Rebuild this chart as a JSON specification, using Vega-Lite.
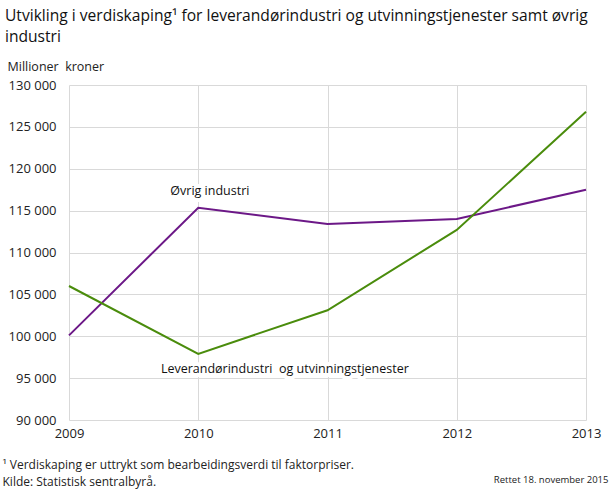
{
  "$schema": "https://vega.github.io/schema/vega-lite/v6.json",
  "width": 517,
  "height": 335,
  "autosize": {"type": "none"},
  "padding": {"left": 69, "top": 85, "right": 24, "bottom": 69},
  "background": "white",
  "config": {
    "view": {"stroke": null},
    "font": "Open Sans",
    "axis": {"labelFont": "Open Sans", "titleFont": "Open Sans", "labelColor": "#222", "titleColor": "#222", "gridColor": "#d9d9d9", "gridWidth": 1}
  },
  "title": {
    "text": ["Utvikling i verdiskaping¹ for leverandørindustri og utvinningstjenester samt øvrig", "industri"],
    "anchor": "start",
    "frame": "group",
    "orient": "top",
    "dx": -64,
    "offset": 14,
    "fontSize": 15.6,
    "fontWeight": "normal",
    "lineHeight": 21,
    "color": "#111",
    "font": "Open Sans"
  },
  "datasets": {
    "series": [
      {"year": 2009, "value": 100100, "series": "Øvrig industri"},
      {"year": 2010, "value": 115350, "series": "Øvrig industri"},
      {"year": 2011, "value": 113400, "series": "Øvrig industri"},
      {"year": 2012, "value": 114000, "series": "Øvrig industri"},
      {"year": 2013, "value": 117500, "series": "Øvrig industri"},
      {"year": 2009, "value": 106000, "series": "Leverandørindustri og utvinningstjenester"},
      {"year": 2010, "value": 97900, "series": "Leverandørindustri og utvinningstjenester"},
      {"year": 2011, "value": 103100, "series": "Leverandørindustri og utvinningstjenester"},
      {"year": 2012, "value": 112700, "series": "Leverandørindustri og utvinningstjenester"},
      {"year": 2013, "value": 126800, "series": "Leverandørindustri og utvinningstjenester"}
    ],
    "labels": [
      {"year": 2010.09, "value": 117350, "label": "Øvrig\u00a0industri"},
      {"year": 2010.67, "value": 96100, "label": "Leverandørindustri\u00a0\u00a0og utvinningstjenester"}
    ]
  },
  "layer": [
    {
      "data": {"name": "series"},
      "mark": {"type": "line", "strokeWidth": 2},
      "encoding": {
        "x": {
          "field": "year", "type": "quantitative",
          "scale": {"domain": [2009, 2013], "nice": false, "zero": false},
          "axis": {
            "values": [2009, 2010, 2011, 2012, 2013], "format": "d",
            "labelFlush": false, "ticks": false, "tickSize": 0, "domain": false,
            "labelPadding": 7, "labelFontSize": 13,
            "title": ["¹ Verdiskaping er uttrykt som bearbeidingsverdi til faktorpriser.", "Kilde: Statistisk sentralbyrå."],
            "titleAlign": "left", "titleAnchor": "start", "titleBaseline": "top",
            "titleX": -67, "titleY": 39, "titleFontSize": 12, "titleFontWeight": "normal", "titleLineHeight": 17
          }
        },
        "y": {
          "field": "value", "type": "quantitative",
          "scale": {"domain": [90000, 130000], "nice": false, "zero": false},
          "axis": {
            "values": [90000, 95000, 100000, 105000, 110000, 115000, 120000, 125000, 130000],
            "labelExpr": "replace(format(datum.value, ','), ',', ' ')",
            "ticks": false, "tickSize": 0, "domain": false,
            "labelPadding": 13, "labelFontSize": 13,
            "title": "Millioner\u00a0\u00a0kroner", "titleAngle": 0, "titleAlign": "left", "titleBaseline": "middle",
            "titleX": -62, "titleY": -19, "titleFontSize": 12.5, "titleFontWeight": "normal"
          }
        },
        "color": {
          "field": "series", "type": "nominal",
          "scale": {"domain": ["Øvrig industri", "Leverandørindustri og utvinningstjenester"], "range": ["#6c1887", "#4a8c0c"]},
          "legend": null
        }
      }
    },
    {
      "data": {"name": "labels"},
      "mark": {"type": "text", "fontSize": 12.5, "font": "Open Sans", "stroke": "white", "strokeWidth": 8, "strokeJoin": "round", "align": "center", "baseline": "middle"},
      "encoding": {
        "x": {"field": "year", "type": "quantitative"},
        "y": {
          "field": "value", "type": "quantitative",
          "axis": {
            "orient": "right", "labels": false, "ticks": false, "domain": false, "grid": false,
            "title": "Rettet 18. november 2015", "titleAngle": 0, "titleAlign": "right", "titleBaseline": "middle",
            "titleX": 22, "titleY": 394, "titleFontSize": 9.5, "titleFontWeight": "normal"
          }
        },
        "text": {"field": "label"}
      }
    },
    {
      "data": {"name": "labels"},
      "mark": {"type": "text", "fontSize": 12.5, "font": "Open Sans", "color": "#111", "align": "center", "baseline": "middle"},
      "encoding": {
        "x": {"field": "year", "type": "quantitative"},
        "y": {"field": "value", "type": "quantitative", "axis": null},
        "text": {"field": "label"}
      }
    }
  ],
  "resolve": {"axis": {"y": "independent"}}
}
